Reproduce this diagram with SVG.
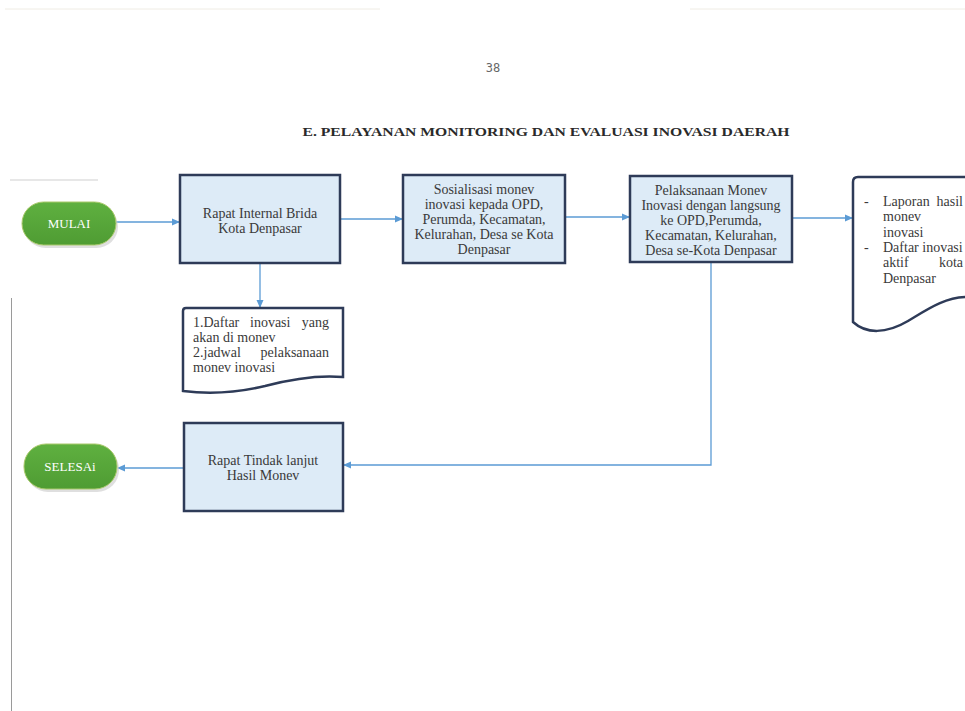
<svg xmlns="http://www.w3.org/2000/svg" width="965" height="711" viewBox="0 0 965 711">
<defs>
<marker id="arr" markerWidth="8" markerHeight="8" refX="7" refY="4" orient="auto" markerUnits="userSpaceOnUse">
<path d="M0,0.5 L8,4 L0,7.5 Z" fill="#5b9bd5"/>
</marker>
<linearGradient id="grn" x1="0" y1="0" x2="0" y2="1">
<stop offset="0" stop-color="#5fb040"/>
<stop offset="1" stop-color="#4f9c33"/>
</linearGradient>
</defs>
<style>
.box{fill:#ddebf7;stroke:#2e3b58;stroke-width:2.5}
.doc{fill:#ffffff;stroke:#2e3b58;stroke-width:2.5}
.pill{fill:url(#grn);stroke:#a9c96a;stroke-width:1}
.shadow{fill:#c9c9c9;opacity:0.6}
.t{font-family:"Liberation Serif",serif;font-size:14px;fill:#3a3a3a}
.c{text-anchor:middle}
.e{text-anchor:end}
.pt{font-family:"Liberation Serif",serif;font-size:13px;fill:#ffffff;text-anchor:middle}
.conn{fill:none;stroke:#5b9bd5;stroke-width:1.3}
.art{stroke-width:1;fill:none}
</style>
<rect width="965" height="711" fill="#ffffff"/>
<!-- scan artifacts -->
<line class="art" x1="5" y1="9" x2="380" y2="9" stroke="#efece4"/>
<line class="art" x1="690" y1="9" x2="965" y2="9" stroke="#efece4"/>
<line class="art" x1="10" y1="180" x2="98" y2="180" stroke="#cfcfcf"/>
<line class="art" x1="11.5" y1="298" x2="11.5" y2="711" stroke="#9a9a9a"/>
<text x="493" y="72" style="font-family:'DejaVu Sans Mono',monospace;font-size:12px;fill:#666" text-anchor="middle">38</text>
<text x="546" y="136" style="font-family:'Liberation Serif',serif;font-size:13.5px;font-weight:bold;fill:#2a2a2a" text-anchor="middle" textLength="487" lengthAdjust="spacingAndGlyphs">E. PELAYANAN MONITORING DAN EVALUASI INOVASI DAERAH</text>

<g id="connectors">
<line class="conn" x1="116" y1="222" x2="179" y2="222" marker-end="url(#arr)"/>
<line class="conn" x1="341" y1="219" x2="402" y2="219" marker-end="url(#arr)"/>
<line class="conn" x1="566" y1="217" x2="629" y2="217" marker-end="url(#arr)"/>
<line class="conn" x1="793" y1="218" x2="852" y2="218" marker-end="url(#arr)"/>
<line class="conn" x1="260" y1="264" x2="260" y2="307" marker-end="url(#arr)"/>
<polyline class="conn" points="711,263 711,465 344,465" marker-end="url(#arr)"/>
<line class="conn" x1="184" y1="468" x2="118" y2="468" marker-end="url(#arr)"/>
</g>

<g id="mulai">
<rect class="shadow" x="24" y="205" width="94" height="43" rx="21.5"/>
<rect class="pill" x="22" y="202" width="94" height="43" rx="21.5"/>
<text class="pt" x="69" y="228">MULAI</text>
</g>

<g id="rapat-internal">
<rect class="box" x="180" y="175" width="160" height="88"/>
<text class="t c" x="260" y="218">Rapat Internal Brida</text>
<text class="t c" x="260" y="233">Kota Denpasar</text>
</g>

<g id="sosialisasi">
<rect class="box" x="403" y="175" width="162" height="88"/>
<text class="t c" x="484" y="194">Sosialisasi monev</text>
<text class="t c" x="484" y="209">inovasi kepada OPD,</text>
<text class="t c" x="484" y="224">Perumda, Kecamatan,</text>
<text class="t c" x="484" y="239">Kelurahan, Desa se Kota</text>
<text class="t c" x="484" y="254">Denpasar</text>
</g>

<g id="pelaksanaan">
<rect class="box" x="630" y="176" width="162" height="86"/>
<text class="t c" x="711" y="195">Pelaksanaan Monev</text>
<text class="t c" x="711" y="210">Inovasi dengan langsung</text>
<text class="t c" x="711" y="225">ke OPD,Perumda,</text>
<text class="t c" x="711" y="240">Kecamatan, Kelurahan,</text>
<text class="t c" x="711" y="255">Desa se-Kota Denpasar</text>
</g>

<g id="laporan">
<path class="doc" d="M853,322 L853,182 Q853,177 858,177 L968,177 L968,297 C945,297 928,309 908,321 C886,334 866,334 853,322 Z"/>
<text class="t" x="864" y="206">-</text>
<text class="t" x="883" y="206">Laporan</text>
<text class="t e" x="963" y="206">hasil</text>
<text class="t" x="883" y="221">monev</text>
<text class="t" x="883" y="237">inovasi</text>
<text class="t" x="864" y="252">-</text>
<text class="t" x="883" y="252">Daftar inovasi</text>
<text class="t" x="883" y="267">aktif</text>
<text class="t e" x="963" y="267">kota</text>
<text class="t" x="883" y="283">Denpasar</text>
</g>

<g id="daftar">
<path class="doc" d="M183,391 L183,311 Q183,308 186,308 L343,308 L343,377 C320,375 295,378 265,386 C240,392 215,395 183,391 Z"/>
<text class="t" x="193" y="327">1.Daftar</text>
<text class="t" x="250" y="327">inovasi</text>
<text class="t e" x="329" y="327">yang</text>
<text class="t" x="193" y="342">akan di monev</text>
<text class="t" x="193" y="357">2.jadwal</text>
<text class="t e" x="329" y="357">pelaksanaan</text>
<text class="t" x="193" y="372">monev inovasi</text>
</g>

<g id="rapat-tindak">
<rect class="box" x="184" y="423" width="159" height="88"/>
<text class="t c" x="263" y="465">Rapat Tindak lanjut</text>
<text class="t c" x="263" y="480">Hasil Monev</text>
</g>

<g id="selesai">
<rect class="shadow" x="26" y="447" width="93" height="45" rx="22"/>
<rect class="pill" x="24" y="444" width="93" height="45" rx="22"/>
<text class="pt" x="70" y="471">SELESAi</text>
</g>
</svg>
